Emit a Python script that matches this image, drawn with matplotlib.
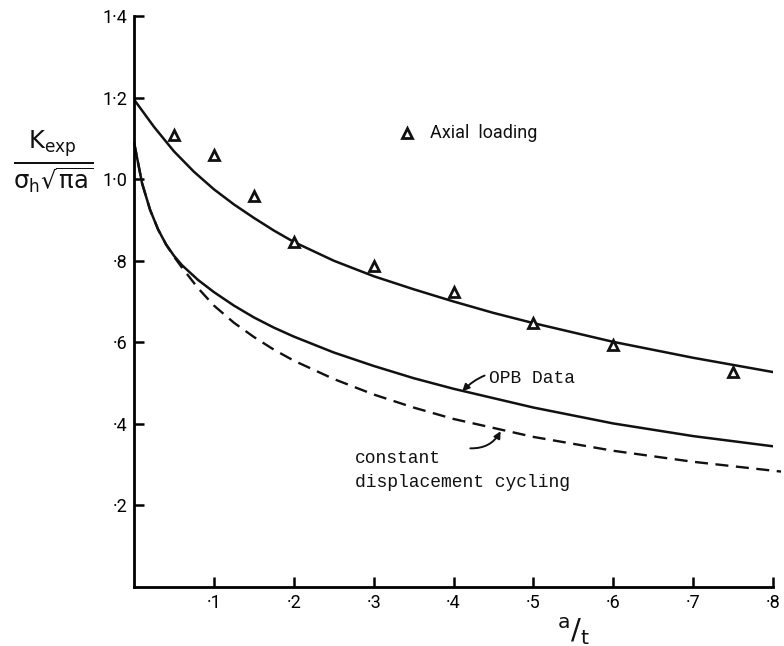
import matplotlib.pyplot as plt

# ─── data ───────────────────────────────────────────────────────────────

# axial loading test points
axial_x = [0.05, 0.10, 0.15, 0.20, 0.30, 0.40, 0.50, 0.60, 0.75]
axial_y = [1.108, 1.059, 0.958, 0.845, 0.788, 0.724, 0.648, 0.594, 0.527]

# fitted curve through axial points
axial_fit_x = [0.0, 0.025, 0.05, 0.075, 0.10, 0.125, 0.15, 0.175, 0.20,
               0.25, 0.30, 0.35, 0.40, 0.45, 0.50, 0.60, 0.70, 0.80]
axial_fit_y = [1.195, 1.128, 1.068, 1.018, 0.975, 0.938, 0.905, 0.874, 0.846,
               0.800, 0.762, 0.730, 0.700, 0.672, 0.647, 0.601, 0.562, 0.527]

# OPB data curve
opb_x = [0.0, 0.01, 0.02, 0.03, 0.04, 0.05, 0.06, 0.08, 0.10, 0.125,
         0.15, 0.175, 0.20, 0.25, 0.30, 0.35, 0.40, 0.50, 0.60, 0.70, 0.80]
opb_y = [1.090, 0.990, 0.925, 0.877, 0.840, 0.812, 0.789, 0.753, 0.723, 0.690,
         0.661, 0.636, 0.614, 0.575, 0.542, 0.512, 0.486, 0.440, 0.401, 0.370, 0.345]

# constant displacement cycling curve
cdc_x = [0.0, 0.01, 0.02, 0.03, 0.04, 0.05, 0.06, 0.08, 0.10, 0.125,
         0.15, 0.175, 0.20, 0.25, 0.30, 0.35, 0.40, 0.50, 0.60, 0.70, 0.81]
cdc_y = [1.090, 0.990, 0.925, 0.877, 0.840, 0.810, 0.783, 0.733, 0.690, 0.648,
         0.613, 0.582, 0.555, 0.510, 0.472, 0.440, 0.412, 0.368, 0.334, 0.307, 0.283]

xticks = [0.1, 0.2, 0.3, 0.4, 0.5, 0.6, 0.7, 0.8]
xtick_labels = ["·1", "·2", "·3", "·4", "·5", "·6", "·7", "·8"]
yticks = [0.2, 0.4, 0.6, 0.8, 1.0, 1.2, 1.4]
ytick_labels = ["·2", "·4", "·6", "·8", "1·0", "1·2", "1·4"]

# ─── figure ─────────────────────────────────────────────────────────────

plt.rcParams["mathtext.fontset"] = "dejavusans"
plt.rcParams["mathtext.default"] = "regular"

fig = plt.figure(figsize=(7.84, 6.46), dpi=100)
ax = fig.add_axes([0.171, 0.0913, 0.815, 0.884])
ax.set_xlim(0, 0.8)
ax.set_ylim(0, 1.4)

for s in ("top", "right"):
    ax.spines[s].set_visible(False)
for s in ("left", "bottom"):
    ax.spines[s].set_linewidth(2)

ax.set_xticks(xticks)
ax.set_xticklabels(xtick_labels, fontfamily="Roboto", fontsize=13)
ax.set_yticks(yticks)
ax.set_yticklabels(ytick_labels, fontfamily="Roboto", fontsize=13)
ax.tick_params(direction="in", length=7, width=1.8, pad=5)

ink = "#111111"
ax.plot(axial_fit_x, axial_fit_y, color=ink, lw=1.8, solid_capstyle="round")
ax.plot(opb_x, opb_y, color=ink, lw=1.8, solid_capstyle="round")
ax.plot(cdc_x, cdc_y, color=ink, lw=1.7, dashes=(5.5, 3.2), clip_on=False)
ax.plot(axial_x, axial_y, ls="none", marker="^", ms=7, mfc="white",
        mec=ink, mew=2, clip_on=False)

# legend entry
ax.plot([0.342], [1.113], ls="none", marker="^", ms=7, mfc="white", mec=ink, mew=2)
ax.text(0.37, 1.113, "Axial  loading", fontfamily="Roboto", fontsize=13,
        va="center", ha="left", color=ink)

# curve labels
ax.annotate("OPB Data", xy=(0.411, 0.48), xytext=(0.444, 0.512),
            fontfamily="Liberation Mono", fontsize=13, va="center", ha="left",
            color=ink,
            arrowprops=dict(arrowstyle="-|>", color=ink, lw=1.4,
                            connectionstyle="arc3,rad=0.35",
                            shrinkA=1, shrinkB=0, mutation_scale=10))
ax.annotate("", xy=(0.459, 0.382), xytext=(0.421, 0.340),
            arrowprops=dict(arrowstyle="-|>", color=ink, lw=1.4,
                            connectionstyle="arc3,rad=0.3",
                            shrinkA=0, shrinkB=0, mutation_scale=10))
ax.text(0.277, 0.316, "constant", fontfamily="Liberation Mono", fontsize=13,
        va="center", ha="left", color=ink)
ax.text(0.277, 0.257, "displacement cycling", fontfamily="Liberation Mono",
        fontsize=13, va="center", ha="left", color=ink)

# axis labels
fig.text(0.068, 0.749, r"$\frac{K_{exp}}{\sigma_h\sqrt{\pi a}}$",
         fontsize=25, ha="center", va="center", color=ink)
fig.text(0.732, 0.022, r"$^{a}/_{t}$", fontsize=21, ha="center", va="center",
         color=ink)

fig.savefig("out.png", dpi=100)
